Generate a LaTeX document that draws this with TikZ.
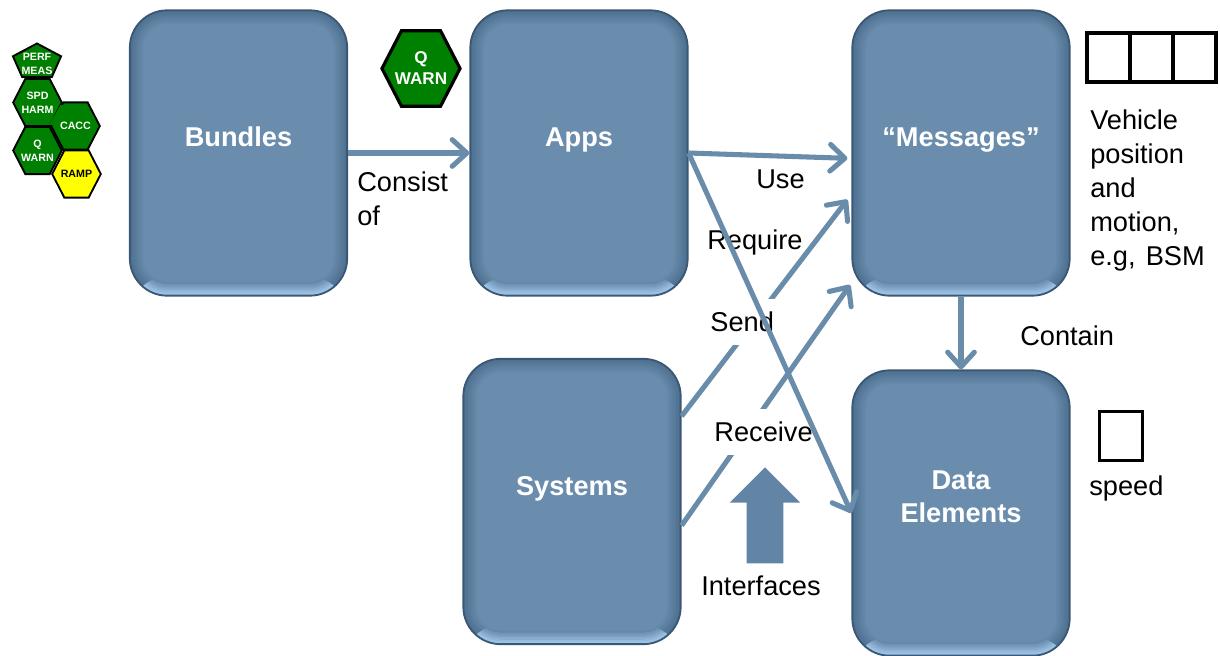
\documentclass[tikz,border=0pt]{standalone}
\usepackage{fontspec}
\setmainfont{Liberation Sans}
\usetikzlibrary{shapes,arrows.meta,positioning}
\definecolor{BOXCOLOR}{HTML}{6A8DAD}
\definecolor{BOXEDGE}{HTML}{3A5874}
\definecolor{BOXDARK}{HTML}{4C6E8E}
\definecolor{BOXLIGHT}{HTML}{A8CFF2}
\definecolor{LINKCOLOR}{HTML}{6A8CAB}
\definecolor{BLOCKCOLOR}{HTML}{6285A6}
\definecolor{HEXGREEN}{HTML}{008000}
\definecolor{HEXYELLOW}{HTML}{FFFF00}
\tikzset{
  box-style/.style = {
    rectangle, rounded corners=28pt, draw=BOXEDGE, line width=1.4pt,
    fill=BOXCOLOR,
    minimum width=163pt,
    minimum height=214pt,
    inner sep=0pt,
    path picture={
      \foreach \i [evaluate=\i as \k using int(100-\i*9),
                   evaluate=\i as \r using 28-\i] in {1,...,11} {
        \draw[line width=1.3pt,rounded corners=\r pt,draw={BOXDARK!\k!BOXCOLOR}]
          ([xshift=\i pt,yshift=\i pt]path picture bounding box.south west) rectangle
          ([xshift=-\i pt,yshift=-\i pt]path picture bounding box.north east);
      }
      \begin{scope}
        \clip (path picture bounding box.south west) rectangle ([yshift=14pt]path picture bounding box.south east);
        \foreach \i [evaluate=\i as \k using int(100-\i*11),
                     evaluate=\i as \r using 28-\i] in {1,...,8} {
          \draw[line width=1.3pt,rounded corners=\r pt,draw={BOXLIGHT!\k!BOXCOLOR}]
            ([xshift=\i pt,yshift=\i pt]path picture bounding box.south west) rectangle
            ([xshift=-\i pt,yshift=-\i pt]path picture bounding box.north east);
        }
      \end{scope}
    }
  },
  box-text/.style = {
    text=white, align=center, yshift=12pt,
    font=\bfseries\fontsize{20.4}{25}\selectfont
  },
  box-line/.style = {
    box-text, text height=14.3pt, text depth=0pt
  },
  hex-style/.style = {
    regular polygon, regular polygon sides=6,
    yscale=1.12, transform shape,
    draw=black, line width=1.4pt, fill=HEXGREEN,
    minimum size=#1, inner sep=0pt
  },
  pent-style/.style = {
    regular polygon, regular polygon sides=5,
    yscale=0.73, transform shape,
    draw=black, line width=1.4pt, fill=HEXGREEN,
    minimum size=38pt, inner sep=0pt
  },
  hex-text/.style = {
    text=white, align=center,
    font=\bfseries\fontsize{8}{10.5}\selectfont
  },
  cell-style/.style = {
    rectangle, draw=black, line width=2.7pt, fill=white, outer sep=0pt,
    minimum width=32.25pt, minimum height=36.75pt, inner sep=0pt
  },
  label-style/.style = {
    align=left, inner sep=0pt, font=\fontsize{20.4}{25.5}\selectfont
  },
  gap-style/.style = {
    label-style, fill=white, minimum height=35pt, inner xsep=2pt
  },
  block-style/.style = {
    single arrow, fill=BLOCKCOLOR, rotate=90, anchor=tip, inner xsep=0pt, inner ysep=13.5pt,
    minimum height=72pt,
    single arrow head extend=12.75pt
  },
  every edge/.style = {
    draw=LINKCOLOR, line width=3.8pt, line join=round,
    -{Straight Barb[round,length=11pt,width=20pt,line width=3.8pt]}
  }
}

\begin{document}
\begin{tikzpicture}[x=0.75pt,y=-0.75pt]
  \useasboundingbox (0,0) rectangle (1220,656);

  %%% boxes
  \node[box-style,label={[box-line]center:Bundles}] (bundles) at (238.5,153) {};
  \node[box-style,label={[box-line]center:Apps}] (apps) at (579,153) {};
  \node[box-style,label={[box-line]center:“Messages”}] (messages) at (961,153) {};
  \node[box-style,label={[box-line]center:Systems}] (systems) at (572,501.5) {};
  \node[box-style,label={[box-text]center:Data\\Elements}] (dataElements) at (961,513) {};

  %%% hexagons
  \node[pent-style] (perfShape) at (37,62) {};
  \node[hex-text] (perfText) at (37,63.5) {PERF\\MEAS};
  \node[hex-style=36.5pt,label={[hex-text]center:CACC}] (cacc) at (75.5,126) {};
  \node[hex-style=36.5pt,label={[hex-text]center:SPD\\HARM}] (spdHarm) at (37.5,102.5) {};
  \fill[HEXGREEN] (60.5,105) -- (64.5,105) -- (53,125) -- (49,125) -- cycle;
  \node[hex-style=36.5pt,label={[hex-text]center:Q\\WARN}] (qWarnSmall) at (37.5,150.5) {};
  \node[hex-style=36.5pt,fill=HEXYELLOW,label={[hex-text,text=black]center:RAMP}] (ramp) at (76.5,174) {};
  \node[hex-style=58.5pt,line width=2.4pt,label={[hex-text,font=\bfseries\fontsize{12.8}{15.8}\selectfont]center:Q\\WARN}] (qWarn) at (421,68.5) {};

  %%% cells
  \node[cell-style] (msgCellA) at (1108.3,57.5) {};
  \node[cell-style,right=0pt of msgCellA] (msgCellB) {};
  \node[cell-style,right=0pt of msgCellB] (msgCellC) {};
  \node[cell-style] (dataCell) at (1121,436) {};

  %%% arrows under the labels
  \path ([yshift=64pt]systems.east) edge ([xshift=-3pt,yshift=-35pt]messages.west);
  \path ([yshift=-18pt]systems.east) edge ([xshift=-1pt,yshift=-99pt]messages.west);

  %%% labels
  \node[gap-style,anchor=west] (sendLabel) at (707.5,322) {Send};
  \node[gap-style,anchor=west] (receiveLabel) at (711.5,432) {Receive};
  \node[label-style,anchor=west] (useLabel) at (756,179) {Use};
  \node[label-style,anchor=west] (requireLabel) at (707,242) {Require};
  \node[label-style,anchor=west] (interfacesLabel) at (701,586) {Interfaces};
  \node[label-style,anchor=west] (consistLabel) at (357,199) {Consist\\of};
  \node[label-style,anchor=west] (containLabel) at (1020,336) {Contain};
  \node[label-style,anchor=west] (vehicleLabel) at (1090,190) {Vehicle\\position\\and\\motion,\\e.g,\ \hspace{2pt}BSM};
  \node[label-style,anchor=west] (speedLabel) at (1089,488) {speed};

  %%% arrows
  \node[block-style] (interfacesArrow) at (765,467) {};
  \path (bundles.east) edge (apps.west);
  \path (apps.east) edge ([xshift=-3pt,yshift=-4pt]messages.west);
  \path (apps.east) edge (dataElements.west);
  \path (messages.south) edge (dataElements.north);
\end{tikzpicture}
\end{document}
